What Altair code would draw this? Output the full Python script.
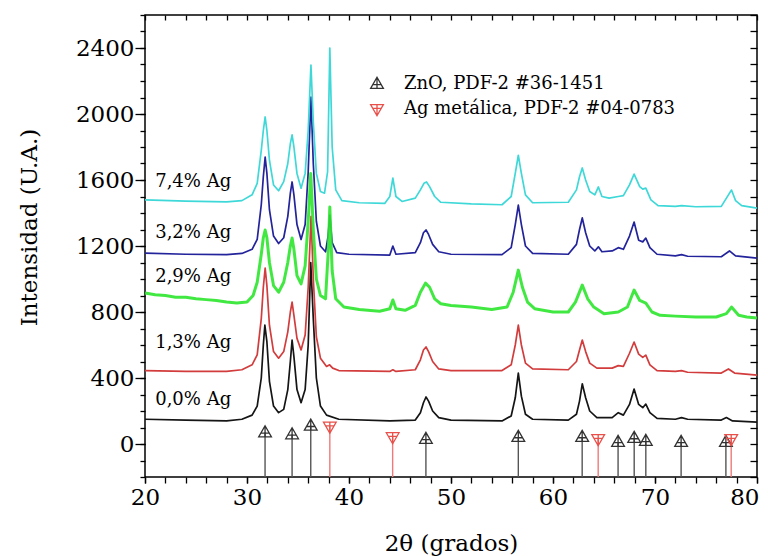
import altair as alt
import pandas as pd

FONT = "DejaVu Serif"

SAMPLES = ["0,0% Ag", "1,3% Ag", "2,9% Ag", "3,2% Ag", "7,4% Ag"]
COLORS = ["#151515", "#d23c3c", "#2ee62e", "#23239b", "#3fd8d8"]

P00 = [(20,150),(24,145),(28,140),(29.5,150),(30.5,175),(31.0,230),(31.4,400),(31.6,600),(31.75,720),(31.95,620),
       (32.2,380),(32.6,230),(33.1,190),(33.6,210),(34.0,330),(34.25,500),(34.42,630),(34.6,530),(34.9,330),(35.3,250),
       (35.7,330),(36.0,600),(36.25,1100),(36.5,760),(36.8,400),(37.2,230),(37.8,175),(39,150),(44,140),(46.5,145),
       (47.0,190),(47.3,250),(47.55,285),(47.8,260),(48.2,200),(48.8,160),(50,145),(55,140),(55.9,170),(56.3,280),
       (56.6,430),(56.9,290),(57.3,180),(58,150),(61.5,145),(62.3,180),(62.6,260),(62.87,365),(63.2,280),(63.6,200),
       (64.3,160),(65.8,160),(66.4,190),(66.9,175),(67.5,240),(67.95,333),(68.4,240),(68.8,220),(69.1,242),(69.5,190),
       (70.2,155),(72,150),(72.6,160),(73.2,150),(76.5,145),(77.0,160),(77.6,140),(80,133)]

P13 = [(20,445),(24,440),(28,440),(29.5,450),(30.5,480),(31.0,540),(31.4,760),(31.6,950),(31.78,1066),(31.95,960),
       (32.2,720),(32.6,560),(33.1,520),(33.6,560),(34.0,680),(34.25,800),(34.42,860),(34.6,780),(34.9,640),(35.3,570),
       (35.7,660),(36.0,950),(36.28,1380),(36.5,1000),(36.8,650),(37.2,520),(37.8,470),(38.1,480),(38.4,460),(39,445),
       (44,440),(44.3,450),(44.6,440),(46.5,450),(47.0,510),(47.3,570),(47.55,588),(47.8,560),(48.2,500),(48.8,455),
       (50,445),(55,445),(55.9,480),(56.3,600),(56.6,721),(56.9,600),(57.3,490),(58,455),(61.5,450),(62.3,500),
       (62.6,570),(62.87,630),(63.2,560),(63.6,490),(64.3,460),(65.8,460),(66.4,475),(66.9,470),(67.5,550),(67.95,618),
       (68.4,545),(68.8,525),(69.1,539),(69.5,480),(70.2,445),(72,440),(72.6,445),(73.2,435),(76.5,430),(77.2,455),
       (77.8,430),(80,418)]

P29 = [(20,915),(21,905),(22,900),(23,890),(24,890),(25,880),(26,875),(27,870),(28,860),(29,855),(30,860),(30.6,900),
       (31.0,980),(31.4,1150),(31.6,1250),(31.78,1297),(31.95,1250),(32.2,1100),(32.6,960),(33.1,920),(33.6,980),
       (34.0,1100),(34.25,1200),(34.42,1248),(34.6,1180),(34.9,1020),(35.3,970),(35.7,1080),(36.0,1350),(36.25,1640),
       (36.5,1300),(36.8,1000),(37.2,900),(37.7,880),(37.95,1150),(38.12,1436),(38.35,1050),(38.7,880),(39.5,830),
       (41,815),(43,805),(44,820),(44.3,873),(44.6,820),(45.5,810),(46.5,840),(47.0,920),(47.5,975),(47.9,950),(48.4,880),
       (49,850),(50,840),(52,830),(54,815),(55.5,830),(56.1,920),(56.6,1054),(57.0,950),(57.5,860),(58.2,820),(60,800),
       (61.5,800),(62.2,860),(62.87,963),(63.4,880),(64,830),(65,790),(66.4,800),(67.3,830),(67.95,933),(68.5,870),
       (69.1,854),(69.7,800),(70.5,780),(72,775),(74,770),(76,770),(77.0,790),(77.5,830),(78.2,780),(79,770),(80,763)]

P32 = [(20,1157),(24,1150),(28,1148),(29.5,1155),(30.5,1180),(31.0,1240),(31.4,1450),(31.6,1620),(31.78,1739),(31.95,1640),
       (32.2,1420),(32.6,1260),(33.1,1215),(33.6,1250),(34.0,1380),(34.25,1520),(34.42,1588),(34.6,1510),(34.9,1330),
       (35.3,1240),(35.7,1330),(36.0,1650),(36.27,2103),(36.5,1700),(36.8,1350),(37.2,1200),(37.7,1165),(37.95,1260),
       (38.12,1388),(38.35,1220),(38.8,1160),(40,1150),(44,1145),(44.3,1200),(44.6,1150),(46.5,1160),(47.0,1220),
       (47.3,1280),(47.55,1297),(47.8,1270),(48.2,1210),(48.8,1165),(50,1150),(55,1148),(55.9,1190),(56.3,1330),
       (56.6,1448),(56.9,1330),(57.3,1200),(58,1155),(61.5,1150),(62.3,1210),(62.6,1300),(62.87,1370),(63.2,1280),
       (63.6,1200),(64.1,1170),(64.45,1195),(64.8,1165),(65.8,1170),(66.4,1190),(66.9,1180),(67.5,1260),(67.95,1345),
       (68.4,1235),(68.8,1225),(69.1,1248),(69.5,1190),(70.2,1150),(72,1140),(72.6,1148),(73.2,1138),(76.5,1135),
       (77.3,1170),(77.9,1140),(80,1127)]

P74 = [(20,1479),(24,1472),(28,1467),(29.5,1475),(30.5,1510),(31.0,1580),(31.4,1780),(31.6,1900),(31.78,1982),(31.95,1900),
       (32.2,1720),(32.6,1570),(33.1,1535),(33.6,1590),(34.0,1700),(34.25,1820),(34.42,1873),(34.6,1800),(34.9,1640),
       (35.3,1550),(35.7,1640),(36.0,1900),(36.27,2297),(36.5,1950),(36.8,1640),(37.2,1530),(37.6,1520),(37.9,1650),
       (38.12,2400),(38.35,1800),(38.7,1540),(39.3,1475),(41,1462),(43.5,1458),(44.0,1500),(44.3,1612),(44.6,1500),
       (45.2,1470),(46.5,1490),(47.0,1540),(47.35,1580),(47.6,1588),(47.9,1560),(48.4,1500),(49,1465),(52,1455),(55,1450),
       (55.9,1500),(56.3,1640),(56.6,1750),(56.9,1640),(57.3,1510),(58,1462),(61.5,1465),(62.3,1540),(62.6,1620),
       (62.87,1673),(63.2,1600),(63.6,1530),(64.1,1510),(64.45,1558),(64.8,1500),(65.5,1490),(66.4,1500),(66.9,1505),
       (67.5,1570),(67.95,1636),(68.5,1560),(68.8,1545),(69.1,1551),(69.6,1480),(70.3,1445),(72,1440),(72.6,1445),
       (74,1438),(76.5,1440),(77.2,1510),(77.5,1539),(77.9,1475),(78.5,1445),(80,1430)]

PHASES = ["ZnO, PDF-2 #36-1451", "Ag metálica, PDF-2 #04-0783"]
ZNO_2T = [31.77, 34.42, 36.25, 47.54, 56.60, 62.86, 66.38, 67.96, 69.10, 72.56, 76.95]
ZNO_H = [70, 58, 110, 30, 42, 42, 12, 36, 18, 12, 12]
AG_2T = [38.12, 44.28, 64.43, 77.47]
AG_H = [106, 42, 30, 30]
STICK_COLORS = ["#555555", "#f07a7a"]
MARKER_COLORS = ["#333333", "#e8504a"]
SHAPES = ["M0,-1L0.95,0.65L-0.95,0.65Z M-0.6,0.1L0.6,0.1 M0,-1L0,0.65",
          "M0,1L0.95,-0.65L-0.95,-0.65Z M-0.6,-0.1L0.6,-0.1 M0,1L0,-0.65"]

LABEL_X = [21.0, 21.0, 21.0, 21.0, 21.0]
LABEL_Y = [236, 582, 982, 1248, 1557]

rows = []
for name, pts in zip(SAMPLES, [P00, P13, P29, P32, P74]):
    for t, v in pts:
        rows.append({"sample": name, "theta": t, "I": v})
curves = pd.DataFrame(rows)

ref = pd.DataFrame({
    "phase": [PHASES[0]] * len(ZNO_2T) + [PHASES[1]] * len(AG_2T),
    "theta": ZNO_2T + AG_2T,
    "h": ZNO_H + AG_H,
})
labs = pd.DataFrame({"label": SAMPLES, "x": LABEL_X, "y": LABEL_Y})

XS = alt.Scale(domain=[20, 80], nice=False, zero=False)
YS = alt.Scale(domain=[-200, 2600], nice=False, zero=False)

thin = curves[curves["sample"] != SAMPLES[2]]
noisy = curves[curves["sample"] == SAMPLES[2]]

lines = alt.Chart(thin).mark_line(strokeWidth=1.7, strokeJoin="round").encode(
    x=alt.X("theta:Q", scale=XS, title="2θ (grados)",
            axis=alt.Axis(orient="bottom", values=list(range(20, 81, 10)), tickSize=6,
                          labelExpr="datum.value < 80 ? datum.label : ''",
                          labelFontSize=23, labelPadding=3, labelFlush=False, domain=False, grid=False,
                          titleFontSize=23, titleY=66, titleBaseline="middle")),
    y=alt.Y("I:Q", scale=YS, title="Intensidad (U.A.)",
            axis=alt.Axis(orient="left", values=list(range(0, 2401, 400)), tickSize=10, format="d",
                          labelFontSize=23, labelPadding=1, labelFlush=False, domain=False, grid=False,
                          titleFontSize=23, titleX=-116, titleY=212, titleAngle=270,
                          titleAlign="center", titleBaseline="middle")),
    color=alt.Color("sample:N", scale=alt.Scale(domain=SAMPLES, range=COLORS), legend=None),
)

green = alt.Chart(noisy).mark_line(strokeWidth=3, strokeJoin="round", color=COLORS[2], opacity=0.9).encode(
    x=alt.X("theta:Q", scale=XS, axis=None),
    y=alt.Y("I:Q", scale=YS, axis=None),
)

sticks = alt.Chart(ref).transform_calculate(base="-200").mark_rule(strokeWidth=1.4).encode(
    x=alt.X("theta:Q", scale=XS,
            axis=alt.Axis(orient="bottom", values=list(range(20, 81, 2)), tickSize=6,
                          labelExpr="datum.value == 80 ? '80' : ''", labelAlign="right", labelOffset=2,
                          labelFontSize=23, labelPadding=3, labelFlush=False, labelBound=False,
                          labelOverlap=False, domain=False, grid=False, title=None)),
    y=alt.Y("h:Q", scale=YS,
            axis=alt.Axis(orient="left", values=list(range(-200, 2601, 100)), tickSize=5, labels=False,
                          domain=False, grid=False, title=None)),
    y2="base:Q",
    color=alt.Color("phase:N", scale=alt.Scale(domain=PHASES, range=STICK_COLORS), legend=None),
)

leg = alt.Legend(orient="none", legendX=223, legendY=60, padding=0, title=None,
                 labelFont=FONT, labelFontSize=18, labelFontWeight="normal", labelColor="black",
                 labelOffset=18, symbolSize=180, symbolStrokeWidth=1.3, rowPadding=7, labelLimit=400)

markers = alt.Chart(ref).mark_point(filled=False, size=180, strokeWidth=1.3, opacity=1).encode(
    x=alt.X("theta:Q", scale=XS,
            axis=alt.Axis(orient="top", values=list(range(20, 81, 2)), tickSize=5, offset=-5, labels=False,
                          domain=False, grid=False, title=None)),
    y=alt.Y("h:Q", scale=YS,
            axis=alt.Axis(orient="right", values=list(range(-200, 2601, 100)), tickSize=7, offset=-7,
                          labels=False, domain=False, grid=False, title=None)),
    color=alt.Color("phase:N", scale=alt.Scale(domain=PHASES, range=MARKER_COLORS), legend=leg),
    shape=alt.Shape("phase:N", scale=alt.Scale(domain=PHASES, range=SHAPES), legend=leg),
)

texts = alt.Chart(labs).mark_text(align="left", baseline="alphabetic", font=FONT, fontSize=18,
                                   color="black").encode(
    x=alt.X("x:Q", scale=XS, axis=None),
    y=alt.Y("y:Q", scale=YS, axis=None),
    text="label:N",
)

chart = alt.layer(lines, green, sticks, markers, texts).resolve_scale(
    color="independent", shape="independent"
).resolve_axis(
    x="independent", y="independent"
).properties(
    width=612, height=462,
    autosize=alt.AutoSizeParams(type="none"),
    padding={"left": 137, "top": 7, "right": 3, "bottom": 79},
).configure_view(
    stroke="black", strokeWidth=1.5
).configure_axis(
    labelFont=FONT, titleFont=FONT, labelColor="black", titleColor="black",
    tickColor="black", tickWidth=1.3, titleFontWeight="normal"
).configure_legend(
    labelFont=FONT, labelFontWeight="normal"
)

chart.save("out.html", embed_options={"renderer": "svg", "actions": False})
